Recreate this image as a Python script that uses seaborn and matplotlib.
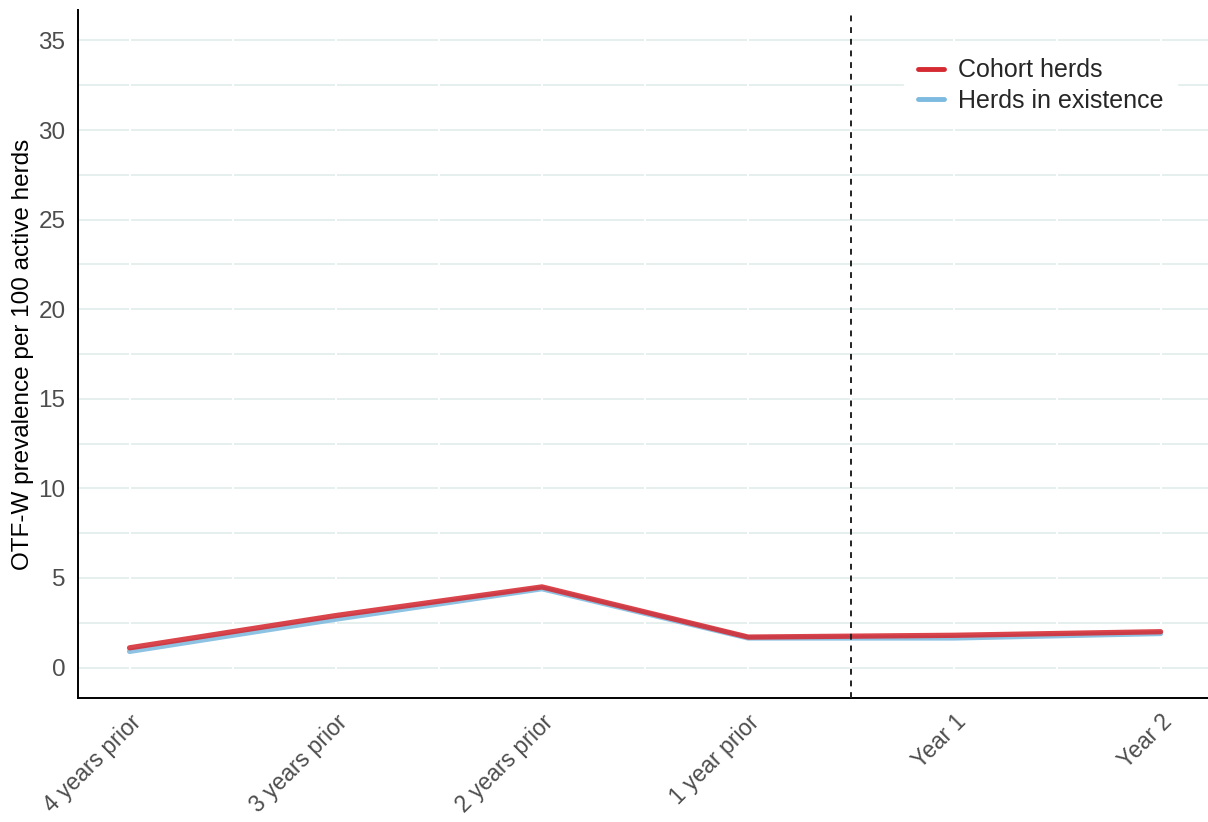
import pandas as pd
import numpy as np
import matplotlib
matplotlib.use('Agg')
import matplotlib.pyplot as plt
import seaborn as sns

periods = ['4 years prior', '3 years prior', '2 years prior', '1 year prior', 'Year 1', 'Year 2']
cohort = [1.1, 2.9, 4.5, 1.7, 1.8, 2.0]
existence = [0.9, 2.7, 4.4, 1.65, 1.65, 1.9]
groups = ['Cohort herds', 'Herds in existence']

df = pd.DataFrame({
    'period': periods * 2,
    'pos': list(range(len(periods))) * 2,
    'value': cohort + existence,
    'group': [groups[0]] * len(periods) + [groups[1]] * len(periods),
})

sns.set_style('white')
plt.rcParams['font.family'] = ['Liberation Sans', 'DejaVu Sans']

fig = plt.figure(figsize=(12.08, 8.22), dpi=100)
ax = fig.add_axes([78 / 1208, 1 - 698 / 822, 1130 / 1208, 688 / 822])

# light horizontal grid, major + minor
for y in np.arange(0, 36, 2.5):
    ax.axhline(y, color='#e4efee', lw=1.4, zorder=0)
# white vertical grid breaking the horizontal lines
for x in np.arange(0, len(periods) - 0.5 + 0.01, 0.5):
    ax.axvline(x, color='white', lw=1.5, zorder=0.5)

sns.lineplot(data=df, x='pos', y='value', hue='group',
             palette={'Cohort herds': '#d52a32', 'Herds in existence': '#7dbadf'},
             hue_order=groups[::-1], lw=3.8, ax=ax, zorder=3, alpha=0.88)

ax.axvline(3.5, color='#222222', lw=1.4, ls=(0, (3, 3)), zorder=4)

ax.set_xlim(-0.25, 5.23)
ax.set_ylim(-1.7, 36.7)
ax.set_yticks(np.arange(0, 36, 5))
ax.set_xticks(range(len(periods)))
ax.set_xticklabels(periods, rotation=45, ha='right', rotation_mode='anchor')
ax.set_xticks(np.arange(0.5, len(periods) - 1, 1), minor=True)
ax.tick_params(axis='x', which='major', length=0, labelsize=16.5, labelcolor='#4d4d4d', pad=9)
ax.tick_params(axis='x', which='minor', length=6, width=1.3, color='#222222')
ax.tick_params(axis='y', length=5, width=1, color='#444444', labelsize=17.5, labelcolor='#4d4d4d', pad=4)
ax.set_xlabel('')
ax.set_ylabel('OTF-W prevalence per 100 active herds', fontsize=17.5, color='black', labelpad=3)

for s in ['top', 'right']:
    ax.spines[s].set_visible(False)
for s in ['left', 'bottom']:
    ax.spines[s].set_linewidth(1.4)
    ax.spines[s].set_color('black')

handles, labels = ax.get_legend_handles_labels()
order = [labels.index(g) for g in groups]
leg = ax.legend([handles[i] for i in order], [labels[i] for i in order],
                loc='upper right', bbox_to_anchor=(0.984, 0.968), fontsize=18,
                frameon=True, facecolor='white', edgecolor='white', framealpha=1,
                handlelength=1.05, handletextpad=0.55, borderpad=0.55, labelspacing=0.25)
for h in leg.get_lines():
    h.set_linewidth(3.5)
    h.set_alpha(1)

fig.savefig('out.png', dpi=100)
